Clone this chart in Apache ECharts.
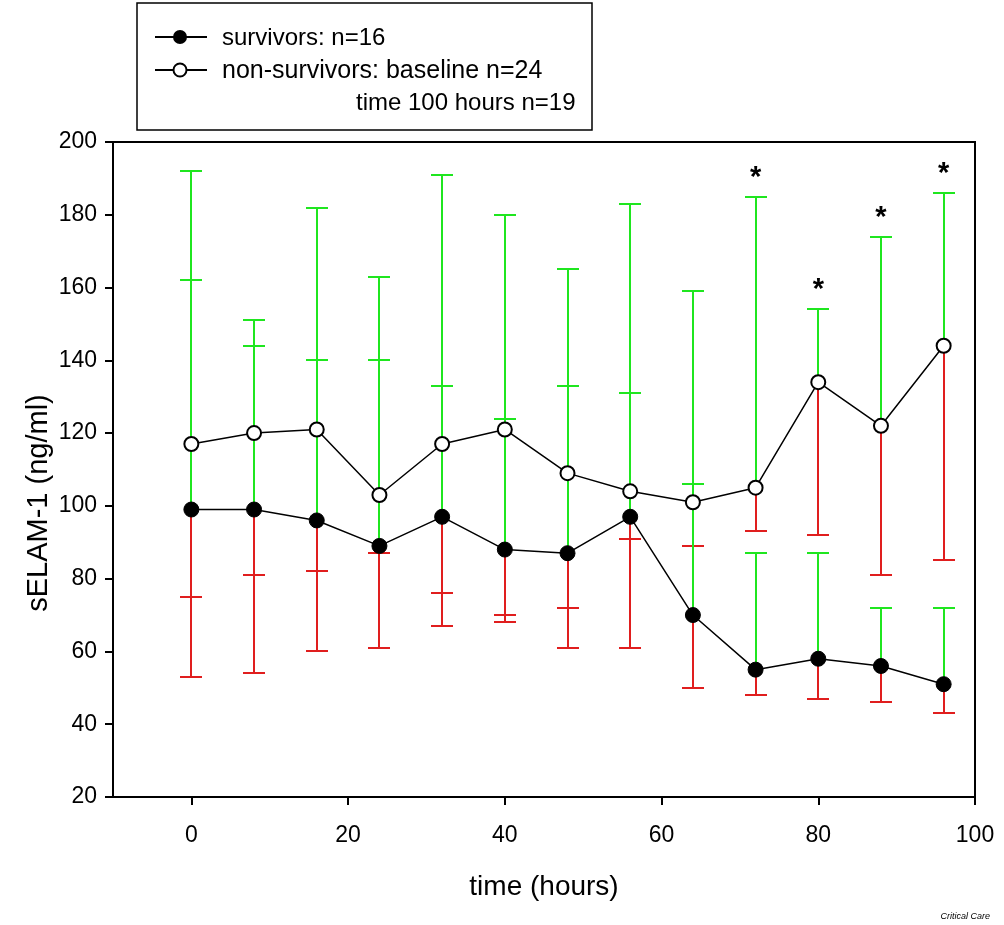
<!DOCTYPE html>
<html>
<head>
<meta charset="utf-8">
<script src="https://cdn.jsdelivr.net/npm/echarts@6/dist/echarts.min.js"></script>
<style>
html,body{margin:0;padding:0;background:#fff;}
#chart{width:1004px;height:925px;}
</style>
</head>
<body>
<div id="chart"></div>
<script>
// ---- data ----
var hours = [0, 8, 16, 24, 32, 40, 48, 56, 64, 72, 80, 88, 96];
var survMean  = [99, 99, 96, 89, 97, 88, 87, 97, 70, 55, 58, 56, 51];
var survUpper = [162, 144, 140, 140, 133, 124, 133, 131, 106, 87, 87, 72, 72];
var survLower = [53, 54, 60, 61, 67, 68, 61, 61, 50, 48, 47, 46, 43];
var nonMean   = [117, 120, 121, 103, 117, 121, 109, 104, 101, 105, 134, 122, 144];
var nonUpper  = [192, 151, 182, 163, 191, 180, 165, 183, 159, 185, 154, 174, 186];
var nonLower  = [75, 81, 82, 87, 76, 70, 72, 91, 89, 93, 92, 81, 85];
var significantHours = [72, 80, 88, 96];
var xTicks = [0, 20, 40, 60, 80, 100];
var survName = 'survivors: n=16';
var nonName1 = 'non-survivors: baseline n=24';
var nonName2 = 'time 100 hours n=19';
var yName = 'sELAM-1 (ng/ml)';
var xName = 'time (hours)';

var FONT = '"Liberation Sans", Arial, sans-serif';
var GREEN = '#1fe61f';
var RED = '#e01e1e';

function zip2(a, b) { return a.map(function (v, i) { return [v, b[i]]; }); }

var lowerBars = [], upperBars = [];
hours.forEach(function (h, i) {
  lowerBars.push([h, survMean[i], survLower[i]]);
  lowerBars.push([h, nonMean[i], nonLower[i]]);
  upperBars.push([h, survMean[i], survUpper[i]]);
  upperBars.push([h, nonMean[i], nonUpper[i]]);
});
var stars = significantHours.map(function (h) {
  var i = hours.indexOf(h);
  return [h, nonUpper[i]];
});

function barRenderer(color) {
  return function (params, api) {
    var p0 = api.coord([api.value(0), api.value(1)]);
    var p1 = api.coord([api.value(0), api.value(2)]);
    var x = Math.round(p0[0]);
    var yEnd = Math.round(p1[1]);
    var hw = 11;
    return {
      type: 'group',
      children: [
        { type: 'line', shape: { x1: x, y1: p0[1], x2: x, y2: yEnd },
          style: { stroke: color, lineWidth: 2 } },
        { type: 'line', shape: { x1: x - hw, y1: yEnd, x2: x + hw, y2: yEnd },
          style: { stroke: color, lineWidth: 2 } }
      ]
    };
  };
}

var chart = echarts.init(document.getElementById('chart'), null, { renderer: 'canvas' });
chart.setOption({
  backgroundColor: '#fff',
  animation: false,
  textStyle: { fontFamily: FONT, color: '#000' },
  grid: { left: 113, right: 29, top: 142, bottom: 128, show: true,
          borderColor: '#000', borderWidth: 2, backgroundColor: 'transparent' },
  xAxis: {
    type: 'value', min: -10, max: 100,
    splitLine: { show: false },
    axisLine: { show: true, onZero: false, lineStyle: { color: '#000', width: 2 } },
    axisTick: { show: true, length: 8, customValues: xTicks, lineStyle: { color: '#000', width: 2 } },
    axisLabel: { customValues: xTicks, fontSize: 23, color: '#000', margin: 27, fontFamily: FONT },
    name: xName, nameLocation: 'middle', nameGap: 76,
    nameTextStyle: { fontSize: 28, color: '#000', fontFamily: FONT }
  },
  yAxis: {
    type: 'value', min: 20, max: 200, interval: 20,
    splitLine: { show: false },
    axisLine: { show: true, onZero: false, lineStyle: { color: '#000', width: 2 } },
    axisTick: { show: true, length: 8, lineStyle: { color: '#000', width: 2 } },
    axisLabel: { fontSize: 23, color: '#000', margin: 16, fontFamily: FONT }
  },
  series: [
    { type: 'custom', name: 'lower', data: lowerBars, renderItem: barRenderer(RED), z: 1, silent: true },
    { type: 'custom', name: 'upper', data: upperBars, renderItem: barRenderer(GREEN), z: 2, silent: true },
    { type: 'line', name: survName, data: zip2(hours, survMean), z: 5,
      symbol: 'circle', symbolSize: 15, showAllSymbol: true,
      lineStyle: { color: '#000', width: 1.5 },
      itemStyle: { color: '#000', borderColor: '#000', borderWidth: 1 } },
    { type: 'line', name: nonName1, data: zip2(hours, nonMean), z: 5,
      symbol: 'circle', symbolSize: 14, showAllSymbol: true,
      lineStyle: { color: '#000', width: 1.5 },
      itemStyle: { color: '#fff', borderColor: '#000', borderWidth: 2 } },
    { type: 'custom', name: 'stars', data: stars, z: 6, silent: true,
      renderItem: function (params, api) {
        var p = api.coord([api.value(0), api.value(1)]);
        return { type: 'text', x: p[0], y: p[1] - 19,
          style: { text: '*', fill: '#000', font: 'bold 29px ' + FONT,
                   align: 'center', verticalAlign: 'middle' } };
      } }
  ],
  graphic: [
    { type: 'text', x: 39, y: 503, rotation: Math.PI / 2,
      style: { text: yName, font: '29px ' + FONT, fill: '#000', align: 'center', verticalAlign: 'middle' }, z: 12 },
    { type: 'rect', shape: { x: 137, y: 3, width: 455, height: 127 },
      style: { fill: '#fff', stroke: '#000', lineWidth: 1.5 }, z: 10 },
    { type: 'line', shape: { x1: 155, y1: 37, x2: 207, y2: 37 }, style: { stroke: '#000', lineWidth: 2 }, z: 11 },
    { type: 'circle', shape: { cx: 180, cy: 37, r: 7 }, style: { fill: '#000' }, z: 12 },
    { type: 'text', x: 222, y: 38, style: { text: survName, font: '24px ' + FONT, fill: '#000', verticalAlign: 'middle' }, z: 12 },
    { type: 'line', shape: { x1: 155, y1: 70, x2: 207, y2: 70 }, style: { stroke: '#000', lineWidth: 2 }, z: 11 },
    { type: 'circle', shape: { cx: 180, cy: 70, r: 6.5 }, style: { fill: '#fff', stroke: '#000', lineWidth: 2 }, z: 12 },
    { type: 'text', x: 222, y: 71, style: { text: nonName1, font: '25px ' + FONT, fill: '#000', verticalAlign: 'middle' }, z: 12 },
    { type: 'text', x: 356, y: 103, style: { text: nonName2, font: '24px ' + FONT, fill: '#000', verticalAlign: 'middle' }, z: 12 },
    { type: 'text', x: 990, y: 916, style: { text: 'Critical Care', font: 'italic 9px ' + FONT, fill: '#000', align: 'right', verticalAlign: 'middle' }, z: 12 }
  ]
});
</script>
</body>
</html>
